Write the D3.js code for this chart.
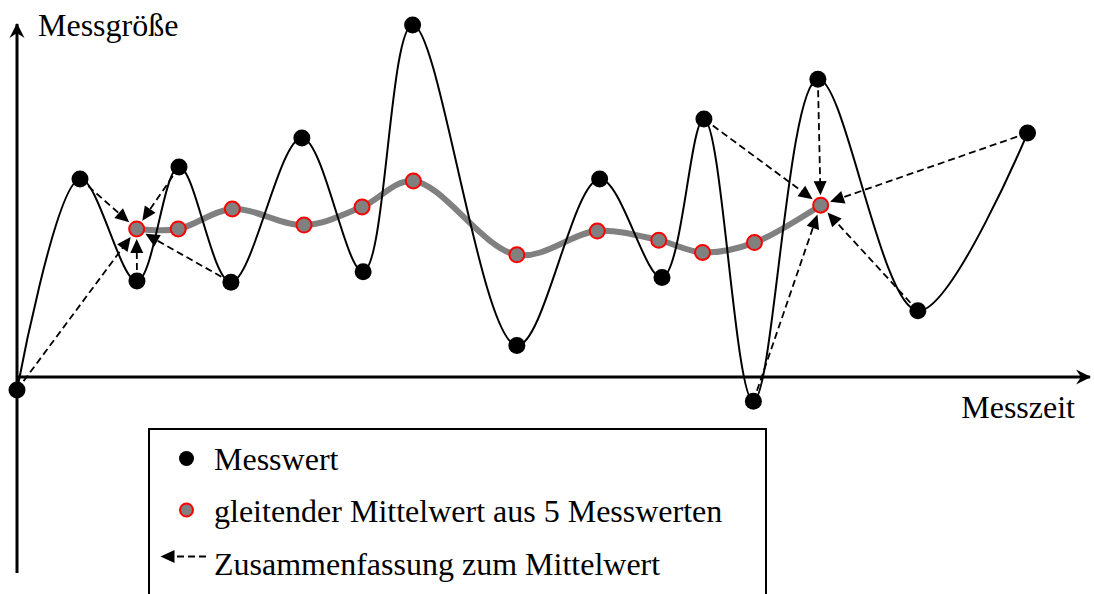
<!DOCTYPE html>
<html>
<head>
<meta charset="utf-8">
<script src="https://cdn.jsdelivr.net/npm/d3@7"></script>
<style>
  html, body { margin: 0; padding: 0; background: #fff; }
  svg { display: block; }
</style>
</head>
<body>
<svg id="chart" width="1094" height="594" style="font-family: 'Liberation Serif', Tinos, 'Times New Roman', serif;"></svg>
<script>
// ---- data ----
const measTime  = [0, 5.86, 11.16, 15.07, 19.9, 26.5, 32.2, 36.8, 46.5, 54.2, 60.0, 63.9, 68.5, 74.5, 83.8, 94.0];
const measValue = [-0.37, 5.66, 2.74, 6.0, 2.71, 6.83, 3.01, 10.06, 0.9, 5.66, 2.84, 7.37, -0.69, 8.51, 1.89, 6.97];
const avgTime   = [11.13, 15.0, 20.03, 26.7, 32.1, 36.87, 46.5, 53.98, 59.7, 63.77, 68.6, 74.76];
const avgValue  = [4.23, 4.23, 4.8, 4.34, 4.86, 5.6, 3.49, 4.17, 3.91, 3.56, 3.84, 4.91];
const groupTarget  = [0, 11];                                 // index into average series
const groupMembers = [[0, 1, 2, 3, 4], [11, 12, 13, 14, 15]]; // indices into measurement series
const xAxisExtent = [0, 100];
const yAxisExtent = [-5.6, 10.14];
const xLabel = "Messzeit";
const yLabel = "Messgröße";
const legendLabels = ["Messwert", "gleitender Mittelwert aus 5 Messwerten", "Zusammenfassung zum Mittelwert"];

// ---- setup ----
const FONT = "'Liberation Serif', Tinos, 'Times New Roman', serif";
const svg = d3.select("#chart");
const x = d3.scaleLinear().domain([0, 100]).range([17, 1092]);
const y = d3.scaleLinear().domain([0, 10]).range([377, 27]);

const defs = svg.append("defs");
defs.append("marker").attr("id", "axisArrow")
  .attr("markerUnits", "userSpaceOnUse").attr("viewBox", "-16 -9 18 18")
  .attr("markerWidth", 18).attr("markerHeight", 18).attr("refX", 0).attr("refY", 0)
  .attr("orient", "auto")
  .append("path").attr("d", "M1,0 L-14,-7.5 L-9,0 L-14,7.5 Z").attr("fill", "#000");
defs.append("marker").attr("id", "dashArrow")
  .attr("markerUnits", "userSpaceOnUse").attr("viewBox", "-15 -7 16 14")
  .attr("markerWidth", 16).attr("markerHeight", 14).attr("refX", 0).attr("refY", 0)
  .attr("orient", "auto")
  .append("path").attr("d", "M0,0 L-14,-6.5 L-14,6.5 Z").attr("fill", "#000");

const meas = measTime.map((t, i) => ({ t, v: measValue[i] }));
const avg = avgTime.map((t, i) => ({ t, v: avgValue[i] }));

// ---- axes ----
svg.append("line")
  .attr("x1", x(xAxisExtent[0])).attr("x2", x(xAxisExtent[1]) - 2)
  .attr("y1", y(0)).attr("y2", y(0))
  .attr("stroke", "#000").attr("stroke-width", 3)
  .attr("marker-end", "url(#axisArrow)");
svg.append("line")
  .attr("x1", x(0)).attr("x2", x(0))
  .attr("y1", y(yAxisExtent[0])).attr("y2", y(yAxisExtent[1]) + 2)
  .attr("stroke", "#000").attr("stroke-width", 3)
  .attr("marker-end", "url(#axisArrow)");

svg.append("text").attr("x", 38).attr("y", 36).attr("font-size", 32)
  .style("font-family", FONT).text(yLabel);
svg.append("text").attr("x", 1075).attr("y", 418).attr("text-anchor", "end").attr("font-size", 32)
  .style("font-family", FONT).text(xLabel);

// ---- lines ----
const curve = d3.curveCatmullRom.alpha(0.5);
const lineGen = d3.line().x(d => x(d.t)).y(d => y(d.v)).curve(curve);

svg.append("path").datum(avg).attr("d", lineGen)
  .attr("fill", "none").attr("stroke", "#808080").attr("stroke-width", 6);
svg.append("path").datum(meas).attr("d", lineGen)
  .attr("fill", "none").attr("stroke", "#000").attr("stroke-width", 2);

// ---- dashed arrows ----
const rAvg = 8;
groupMembers.forEach((members, g) => {
  const target = avg[groupTarget[g]];
  const tx = x(target.t), ty = y(target.v);
  members.forEach(mi => {
    const sx = x(meas[mi].t), sy = y(meas[mi].v);
    const dx = tx - sx, dy = ty - sy, len = Math.hypot(dx, dy);
    const ex = tx - dx / len * (rAvg + 2), ey = ty - dy / len * (rAvg + 2);
    svg.append("line")
      .attr("x1", sx).attr("y1", sy).attr("x2", ex - dx / len * 8).attr("y2", ey - dy / len * 8)
      .attr("stroke", "#000").attr("stroke-width", 1.8).attr("stroke-dasharray", "7,4");
    svg.append("line")
      .attr("x1", ex - dx / len * 9).attr("y1", ey - dy / len * 9).attr("x2", ex).attr("y2", ey)
      .attr("stroke", "none").attr("marker-end", "url(#dashArrow)");
  });
});

// ---- points ----
svg.append("g").selectAll("circle").data(meas).join("circle")
  .attr("cx", d => x(d.t)).attr("cy", d => y(d.v)).attr("r", 8.5).attr("fill", "#000");
svg.append("g").selectAll("circle").data(avg).join("circle")
  .attr("cx", d => x(d.t)).attr("cy", d => y(d.v)).attr("r", rAvg - 0.5)
  .attr("fill", "#808080").attr("stroke", "#ff0000").attr("stroke-width", 2);

// ---- legend ----
const lg = svg.append("g");
lg.append("rect").attr("x", 149).attr("y", 429).attr("width", 617).attr("height", 200)
  .attr("fill", "#fff").attr("stroke", "#000").attr("stroke-width", 2);
const rowY = [470, 522, 575];
legendLabels.forEach((lab, i) => {
  lg.append("text").attr("x", 214).attr("y", rowY[i]).attr("font-size", 32)
    .style("font-family", FONT).text(lab);
});
lg.append("circle").attr("cx", 186.5).attr("cy", 458.5).attr("r", 7.5).attr("fill", "#000");
lg.append("circle").attr("cx", 186.5).attr("cy", 510).attr("r", 6.5)
  .attr("fill", "#808080").attr("stroke", "#ff0000").attr("stroke-width", 2);
lg.append("line").attr("x1", 206).attr("y1", 556.5).attr("x2", 174).attr("y2", 556.5)
  .attr("stroke", "#000").attr("stroke-width", 1.8).attr("stroke-dasharray", "7,4");
lg.append("line").attr("x1", 175).attr("y1", 556.5).attr("x2", 160.5).attr("y2", 556.5)
  .attr("stroke", "none").attr("marker-end", "url(#dashArrow)");
</script>
</body>
</html>
